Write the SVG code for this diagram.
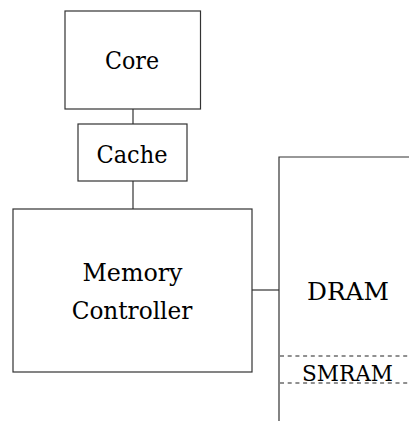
<svg xmlns="http://www.w3.org/2000/svg" width="409" height="421" viewBox="0 0 409 421">
<style>
.box{fill:#fff;stroke:#333;stroke-width:1.2}
.ln{fill:none;stroke:#333;stroke-width:1.2}
.dash{fill:none;stroke:#222;stroke-width:1.2;stroke-dasharray:4 3.7}
.t{font-family:'DejaVu Serif','Liberation Serif',serif;font-size:24px;fill:#000;text-anchor:middle}
.small{font-size:21.5px}
</style>
<rect width="409" height="421" fill="#fff"/>
<g id="connectors">
<line class="ln" x1="133" y1="109" x2="133" y2="124"/>
<line class="ln" x1="133" y1="181" x2="133" y2="209"/>
<line class="ln" x1="252" y1="290" x2="279" y2="290"/>
</g>
<g id="core">
<rect class="box" x="65" y="11" width="135.5" height="98"/>
<text class="t" x="132" y="69" textLength="54" lengthAdjust="spacingAndGlyphs">Core</text>
</g>
<g id="cache">
<rect class="box" x="78" y="124" width="109" height="57"/>
<text class="t" x="132" y="162.7" textLength="71" lengthAdjust="spacingAndGlyphs">Cache</text>
</g>
<g id="memory-controller">
<rect class="box" x="13" y="209" width="239" height="163"/>
<text class="t" x="132.5" y="281" textLength="100" lengthAdjust="spacingAndGlyphs">Memory</text>
<text class="t" x="132" y="319.3" textLength="120.7" lengthAdjust="spacingAndGlyphs">Controller</text>
</g>
<g id="dram">
<polyline class="ln" points="409,157 279,157 279,421"/>
<text class="t" x="348" y="300" textLength="82" lengthAdjust="spacingAndGlyphs">DRAM</text>
</g>
<g id="smram">
<line class="dash" x1="280" y1="356" x2="409" y2="356"/>
<line class="dash" x1="280" y1="383" x2="409" y2="383"/>
<text class="t small" x="347.5" y="380.7" textLength="91" lengthAdjust="spacingAndGlyphs">SMRAM</text>
</g>
</svg>
